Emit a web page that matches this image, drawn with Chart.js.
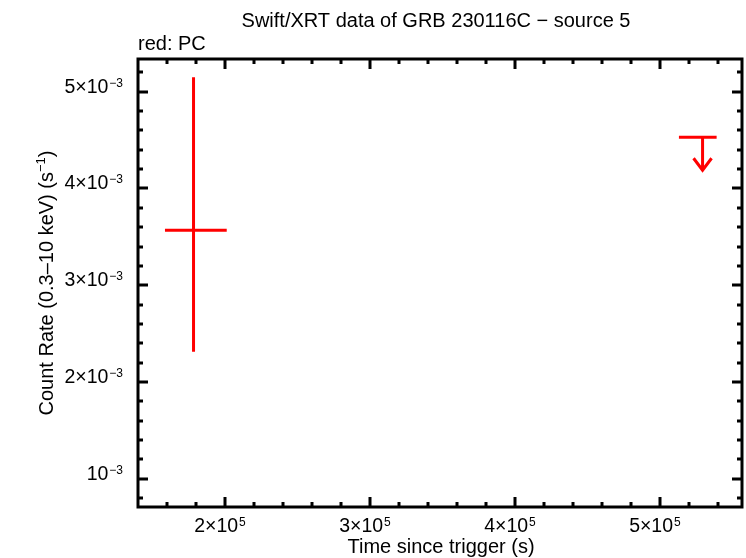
<!DOCTYPE html>
<html>
<head>
<meta charset="utf-8">
<script src="https://cdn.jsdelivr.net/npm/chart.js@4/dist/chart.umd.min.js"></script>
<style>
  html, body { margin: 0; padding: 0; background: #fff; }
  #wrap { width: 746px; height: 558px; }
</style>
</head>
<body>
<div id="wrap"><canvas id="lc" width="746" height="558"></canvas></div>
<script>
// PC mode detection (time in s, rate in counts/s)
const pcTime   = [1.783e5];
const pcTimeLo = [1.586e5];
const pcTimeHi = [2.012e5];
const pcRate   = [3.568e-3];
const pcRateLo = [2.313e-3];
const pcRateHi = [5.149e-3];

// PC upper limit
const ulTime   = [5.294e5];
const ulTimeLo = [5.131e5];
const ulTimeHi = [5.391e5];
const ulRate   = [4.529e-3];

// axis ticks
const xTickVals = [2e5, 3e5, 4e5, 5e5];
const xTickMant = ['2', '3', '4', '5'];
const xTickExp  = '5';
const yTickVals = [1e-3, 2e-3, 3e-3, 4e-3, 5e-3];
const yTickMant = ['', '2', '3', '4', '5'];
const yTickExp  = '\u22123';

const xMin = 1.4e5, xMax = 5.566e5;
const yMin = 0.7075e-3, yMax = 5.338e-3;

const FONT = '"Liberation Sans", Arial, Helvetica, sans-serif';

// draw "m×10^e" (or "10^e" when m is empty)
function sciText(ctx, m, e, x, y, align, size) {
  const base = (m ? m + '\u00d7' : '') + '10';
  const supSize = 12;
  ctx.font = size + 'px ' + FONT;
  const wb = ctx.measureText(base).width;
  ctx.font = supSize + 'px ' + FONT;
  const we = ctx.measureText(e).width;
  const w = wb + we + 1;
  let x0 = x;
  if (align === 'center') x0 = x - w / 2;
  else if (align === 'right') x0 = x - w;
  ctx.textAlign = 'left';
  ctx.textBaseline = 'alphabetic';
  ctx.font = size + 'px ' + FONT;
  ctx.fillText(base, x0, y);
  ctx.font = supSize + 'px ' + FONT;
  ctx.fillText(e, x0 + wb + 1, y - 6);
}

const framePlugin = {
  id: 'frame',
  afterDatasetsDraw(chart) {
    const ctx = chart.ctx;
    const xs = chart.scales.x, ys = chart.scales.y;
    const a = chart.chartArea;
    ctx.save();

    // error bars
    ctx.strokeStyle = '#ff0000';
    ctx.lineWidth = 3;
    ctx.beginPath();
    for (let i = 0; i < pcTime.length; i++) {
      const px = xs.getPixelForValue(pcTime[i]);
      const py = ys.getPixelForValue(pcRate[i]);
      ctx.moveTo(xs.getPixelForValue(pcTimeLo[i]), py);
      ctx.lineTo(xs.getPixelForValue(pcTimeHi[i]), py);
      ctx.moveTo(px, ys.getPixelForValue(pcRateLo[i]));
      ctx.lineTo(px, ys.getPixelForValue(pcRateHi[i]));
    }
    ctx.stroke();
    ctx.beginPath();
    for (let i = 0; i < ulTime.length; i++) {
      const px = xs.getPixelForValue(ulTime[i]);
      const py = ys.getPixelForValue(ulRate[i]);
      ctx.moveTo(xs.getPixelForValue(ulTimeLo[i]), py);
      ctx.lineTo(xs.getPixelForValue(ulTimeHi[i]), py);
      ctx.moveTo(px, py);
      ctx.lineTo(px, py + 33);
      ctx.moveTo(px - 9, py + 21);
      ctx.lineTo(px, py + 33);
      ctx.lineTo(px + 9, py + 21);
    }
    ctx.stroke();

    // frame
    ctx.strokeStyle = '#000';
    ctx.lineWidth = 3;
    ctx.strokeRect(a.left, a.top, a.right - a.left, a.bottom - a.top);

    // ticks (inward, all four sides)
    ctx.lineWidth = 3;
    ctx.beginPath();
    for (let k = 7; k <= 27; k++) {
      const v = k * 2e4;
      const major = k % 5 === 0;
      const len = major ? 10 : 5;
      const px = Math.round(xs.getPixelForValue(v));
      if (px <= a.left + 2 || px >= a.right - 2) continue;
      ctx.moveTo(px, a.bottom); ctx.lineTo(px, a.bottom - len);
      ctx.moveTo(px, a.top); ctx.lineTo(px, a.top + len);
    }
    for (let k = 2; k <= 26; k++) {
      const v = k * 2e-4;
      if (v < yMin || v > yMax) continue;
      const major = k % 5 === 0;
      const len = major ? 10 : 5;
      const py = Math.round(ys.getPixelForValue(v));
      ctx.moveTo(a.left, py); ctx.lineTo(a.left + len, py);
      ctx.moveTo(a.right, py); ctx.lineTo(a.right - len, py);
    }
    ctx.stroke();

    // tick labels
    ctx.fillStyle = '#000';
    xTickVals.forEach((v, i) => {
      sciText(ctx, xTickMant[i], xTickExp, xs.getPixelForValue(v) - 5, 531.5, 'center', 19.5);
    });
    yTickVals.forEach((v, i) => {
      sciText(ctx, yTickMant[i], yTickExp, 123, ys.getPixelForValue(v) + 1, 'right', 19.5);
    });

    // titles
    ctx.textBaseline = 'alphabetic';
    ctx.font = '20px ' + FONT;
    ctx.textAlign = 'center';
    ctx.fillText('Swift/XRT data of GRB 230116C \u2212 source 5', 436, 27);
    ctx.fillText('Time since trigger (s)', 441, 553);
    ctx.textAlign = 'left';
    ctx.fillText('red: PC', 138, 50);

    // y title with superscript
    ctx.translate(53, (a.top + a.bottom) / 2);
    ctx.rotate(-Math.PI / 2);
    const main = 'Count Rate (0.3\u201310 keV) (s';
    ctx.font = '20px ' + FONT;
    const wm = ctx.measureText(main).width;
    ctx.font = '13px ' + FONT;
    const ws = ctx.measureText('\u22121').width;
    ctx.font = '20px ' + FONT;
    const wc = ctx.measureText(')').width;
    const x0 = -(wm + ws + wc) / 2;
    ctx.fillText(main, x0, 0);
    ctx.font = '13px ' + FONT;
    ctx.fillText('\u22121', x0 + wm, -8);
    ctx.font = '20px ' + FONT;
    ctx.fillText(')', x0 + wm + ws, 0);
    ctx.restore();
  }
};

new Chart(document.getElementById('lc'), {
  type: 'scatter',
  data: {
    datasets: [
      { label: 'PC', data: pcTime.map((t, i) => ({ x: t, y: pcRate[i] })), pointRadius: 0 },
      { label: 'PC UL', data: ulTime.map((t, i) => ({ x: t, y: ulRate[i] })), pointRadius: 0 }
    ]
  },
  options: {
    responsive: false,
    animation: false,
    layout: { padding: { left: 138, right: 4, top: 59, bottom: 51 } },
    plugins: { legend: { display: false }, tooltip: { enabled: false } },
    scales: {
      x: { type: 'linear', min: xMin, max: xMax, display: false },
      y: { type: 'linear', min: yMin, max: yMax, display: false }
    }
  },
  plugins: [framePlugin]
});
</script>
</body>
</html>
